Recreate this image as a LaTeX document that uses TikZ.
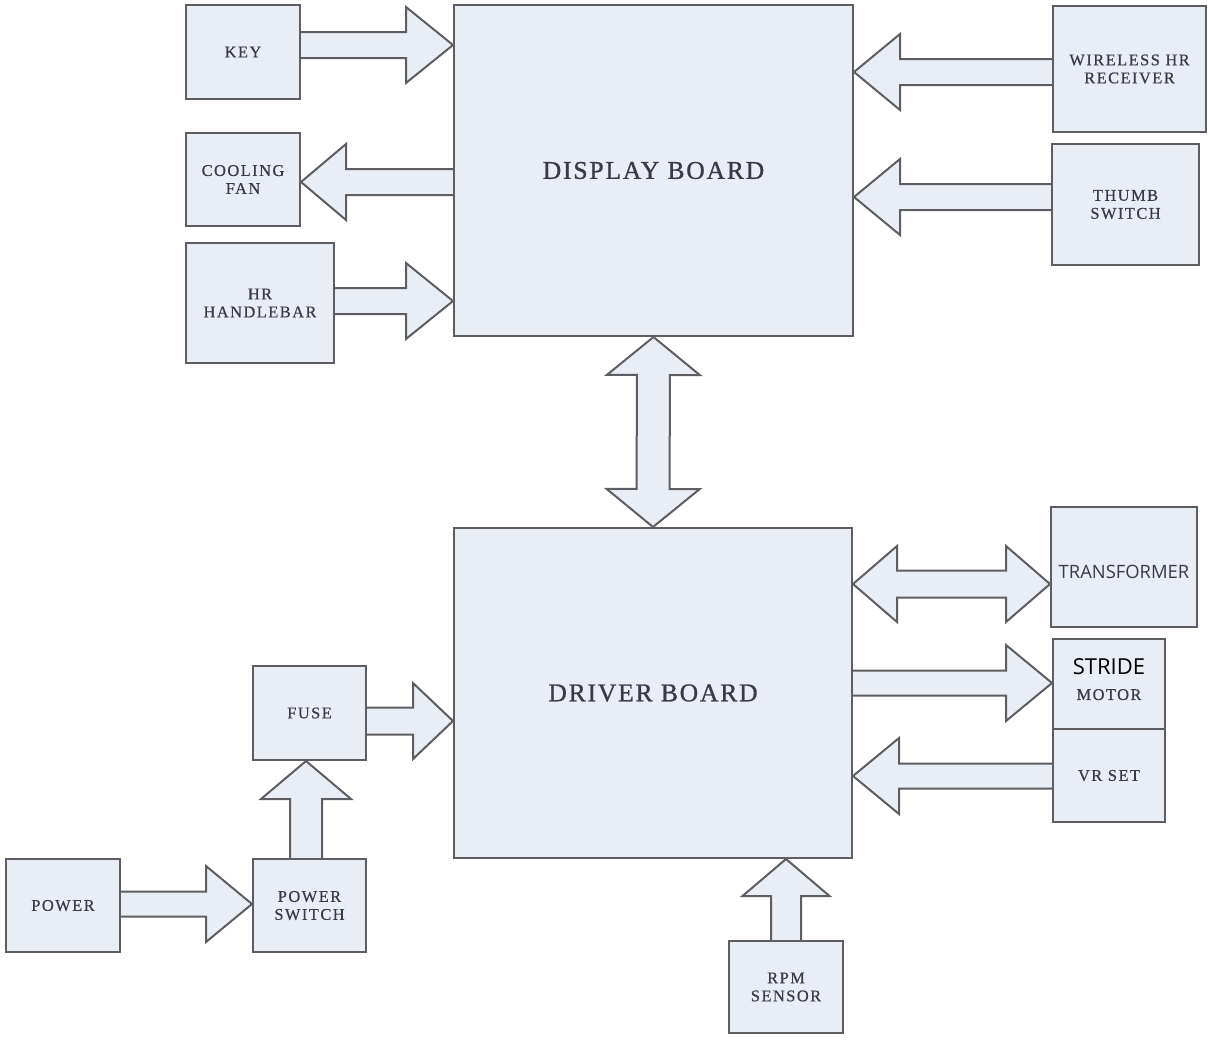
\documentclass[tikz,border=0pt]{standalone}
\usepackage{fontspec}
\usetikzlibrary{calc,backgrounds}
\setmainfont{Liberation Serif}
\newfontfamily\lblfont[LetterSpace=9,FakeBold=0.6]{Liberation Serif}
\newfontfamily\bigfont[LetterSpace=7,FakeBold=1]{Liberation Serif}
\newfontfamily\sansfont{Open Sans}

\definecolor{boxfill}{HTML}{E8EDF6}
\definecolor{edge}{HTML}{5E5E62}
\definecolor{txt}{HTML}{3A3A44}

\tikzset{
  box/.style={draw=edge, fill=boxfill, line width=1pt, inner sep=0pt,
    text=txt, align=center, font=\lblfont\fontsize{8.2}{9}\selectfont},
  board/.style={box, font=\bigfont\fontsize{12.8}{14}\selectfont},
  blockarrow/.style={draw=edge, fill=boxfill, line width=1pt, line join=miter}
}

% single block arrow: #1 start, #2 tip, #3 shaft half width, #4 head half width, #5 head length
\newcommand\singlearrow[5]{%
  \path #1 coordinate (ba0);
  \path #2 coordinate (ba1);
  \coordinate (bah) at ($(ba1)!#5!(ba0)$);
  \draw[blockarrow] ($(ba0)!#3!90:(ba1)$) -- ($(bah)!#3!-90:(ba0)$)
    -- ($(bah)!#4!-90:(ba0)$) -- (ba1) -- ($(bah)!#4!90:(ba0)$)
    -- ($(bah)!#3!90:(ba0)$) -- ($(ba0)!#3!-90:(ba1)$);
}
% double block arrow: heads at both ends
\newcommand\doublearrow[5]{%
  \path #1 coordinate (ba0);
  \path #2 coordinate (ba1);
  \coordinate (bhA) at ($(ba0)!#5!(ba1)$);
  \coordinate (bhB) at ($(ba1)!#5!(ba0)$);
  \draw[blockarrow] (ba0) -- ($(bhA)!#4!90:(ba1)$) -- ($(bhA)!#3!90:(ba1)$)
    -- ($(bhB)!#3!-90:(ba0)$) -- ($(bhB)!#4!-90:(ba0)$) -- (ba1)
    -- ($(bhB)!#4!90:(ba0)$) -- ($(bhB)!#3!90:(ba0)$)
    -- ($(bhA)!#3!-90:(ba1)$) -- ($(bhA)!#4!-90:(ba1)$) -- cycle;
}

\begin{document}
\begin{tikzpicture}[x=0.5pt,y=-0.5pt]
\useasboundingbox (0,0) rectangle (1209,1039);

% boards
\node[board, minimum width=199.5pt, minimum height=165.5pt] (disp) at (653.5,170.5) {DISPLAY BOARD};
\node[board, minimum width=199pt, minimum height=165pt] (drv) at (653,693) {DRIVER BOARD};

% display board peripherals
\node[box, minimum width=57pt, minimum height=47pt] (key) at (243,52) {KEY};
\node[box, minimum width=57pt, minimum height=46.5pt] (fan) at (243,179.5) {COOLING\\FAN};
\node[box, minimum width=74pt, minimum height=60pt] (hr) at (260,303) {HR\\HANDLEBAR};
\node[box, minimum width=76.5pt, minimum height=63pt] (wrx) at (1129.5,69) {WIRELESS HR\\RECEIVER};
\node[box, minimum width=73.5pt, minimum height=60.5pt] (thumb) at (1125.5,204.5) {THUMB\\SWITCH};

% driver board peripherals
\node[box, minimum width=73pt, minimum height=60pt, font=\sansfont\fontsize{9.2}{10}\selectfont] (trans) at (1124,567) {\raisebox{-2.5pt}[\height][\depth]{TRANSFORMER}};
\node[box, minimum width=56pt, minimum height=45pt] (stride) at (1109,684)
  {{\sansfont\fontsize{11}{12}\selectfont\color{black}STRIDE}\\[3.5pt]MOTOR\\[-4.5pt]\mbox{}};
\node[box, minimum width=56pt, minimum height=46.5pt] (vr) at (1109,775.5) {VR SET};
\node[box, minimum width=56.5pt, minimum height=47pt] (fuse) at (309.5,713) {FUSE};
\node[box, minimum width=56.5pt, minimum height=46.5pt] (psw) at (309.5,905.5) {POWER\\SWITCH};
\node[box, minimum width=57pt, minimum height=46.5pt] (power) at (63,905.5) {POWER};
\node[box, minimum width=57pt, minimum height=46pt] (rpm) at (786,987) {RPM\\SENSOR};

% block arrows behind the boxes
\begin{pgfonlayer}{background}
\singlearrow{(key.east |- 0,45)}{(disp.west |- 0,45)}{6.5pt}{19pt}{23.5pt}
\singlearrow{(disp.west |- 0,182)}{(fan.east |- 0,182)}{6.5pt}{19pt}{22.5pt}
\singlearrow{(hr.east |- 0,301)}{(disp.west |- 0,301)}{6.5pt}{19pt}{23.5pt}
\singlearrow{(wrx.west |- 0,72)}{(disp.east |- 0,72)}{6.5pt}{19pt}{23pt}
\singlearrow{(thumb.west |- 0,197)}{(disp.east |- 0,197)}{6.5pt}{19pt}{23pt}
\doublearrow{(disp.south)}{(drv.north)}{8.25pt}{23.25pt}{19pt}
\doublearrow{(drv.east |- 0,584)}{(trans.west |- 0,584)}{6.75pt}{19pt}{22pt}
\singlearrow{(drv.east |- 0,683)}{(stride.west |- 0,683)}{6.25pt}{19pt}{23pt}
\singlearrow{(vr.west |- 0,776)}{(drv.east |- 0,776)}{6.25pt}{19pt}{23pt}
\singlearrow{(fuse.east |- 0,721)}{(drv.west |- 0,721)}{6.75pt}{19pt}{20pt}
\singlearrow{(psw.north -| 306,0)}{(fuse.south -| 306,0)}{8pt}{22.5pt}{19pt}
\singlearrow{(power.east |- 0,904)}{(psw.west |- 0,904)}{6.25pt}{19pt}{23pt}
\singlearrow{(rpm.north)}{(drv.south -| rpm.north)}{7.5pt}{21.75pt}{18.5pt}
\end{pgfonlayer}
\end{tikzpicture}
\end{document}
